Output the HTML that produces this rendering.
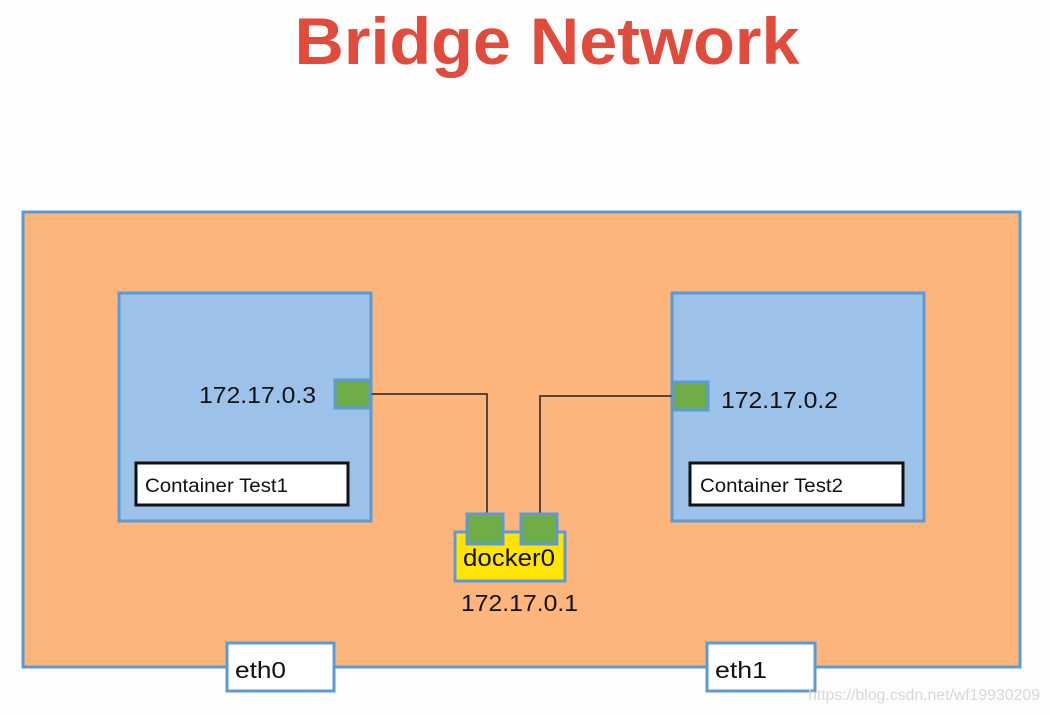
<!DOCTYPE html>
<html><head><meta charset="utf-8"><style>
html,body{margin:0;padding:0;background:#fdfdfd;}
svg{display:block;}
text{font-family:"Liberation Sans",sans-serif;}
</style></head><body>
<svg width="1050" height="715" viewBox="0 0 1050 715" xmlns="http://www.w3.org/2000/svg">
<rect width="1050" height="715" fill="#fdfdfd"/>
<text x="547" y="64" text-anchor="middle" font-size="66" font-weight="bold" fill="#e04b3c" textLength="505" lengthAdjust="spacingAndGlyphs">Bridge Network</text>
<rect x="23" y="212" width="997" height="455" fill="#fdb57b" stroke="#5b9bd5" stroke-width="3"/>
<rect x="119" y="293" width="252" height="228" fill="#9cc2ea" stroke="#5b9bd5" stroke-width="3"/>
<rect x="672" y="293" width="252" height="228" fill="#9cc2ea" stroke="#5b9bd5" stroke-width="3"/>
<rect x="136" y="463" width="212" height="42" fill="#fff" stroke="#111" stroke-width="3"/>
<rect x="690" y="463" width="213" height="42" fill="#fff" stroke="#111" stroke-width="3"/>
<text x="145" y="492" font-size="19" fill="#111" textLength="143" lengthAdjust="spacingAndGlyphs">Container Test1</text>
<text x="700" y="492" font-size="19" fill="#111" textLength="143" lengthAdjust="spacingAndGlyphs">Container Test2</text>
<text x="199" y="403" font-size="23" fill="#111" textLength="117" lengthAdjust="spacingAndGlyphs">172.17.0.3</text>
<text x="721" y="408" font-size="23" fill="#111" textLength="117" lengthAdjust="spacingAndGlyphs">172.17.0.2</text>
<polyline points="370,394 487,394 487,514" fill="none" stroke="#222" stroke-width="1.5"/>
<polyline points="673,396 540,396 540,514" fill="none" stroke="#222" stroke-width="1.5"/>
<rect x="335" y="380" width="35" height="28" fill="#70ad47" stroke="#5b9bd5" stroke-width="3"/>
<rect x="673" y="382" width="35" height="28" fill="#70ad47" stroke="#5b9bd5" stroke-width="3"/>
<rect x="455" y="532" width="110" height="49" fill="#ffe500" stroke="#5b9bd5" stroke-width="3"/>
<rect x="467" y="514" width="36" height="30" fill="#70ad47" stroke="#5b9bd5" stroke-width="3"/>
<rect x="521" y="514" width="36" height="30" fill="#70ad47" stroke="#5b9bd5" stroke-width="3"/>
<text x="463" y="566" font-size="24" fill="#111" textLength="92" lengthAdjust="spacingAndGlyphs">docker0</text>
<text x="461" y="611" font-size="23" fill="#111" textLength="117" lengthAdjust="spacingAndGlyphs">172.17.0.1</text>
<rect x="227" y="643" width="107" height="48" fill="#fff" stroke="#5b9bd5" stroke-width="3"/>
<rect x="707" y="643" width="108" height="48" fill="#fff" stroke="#5b9bd5" stroke-width="3"/>
<text x="235" y="678" font-size="23" fill="#111" textLength="51" lengthAdjust="spacingAndGlyphs">eth0</text>
<text x="715" y="678" font-size="23" fill="#111" textLength="52" lengthAdjust="spacingAndGlyphs">eth1</text>
<text x="808" y="700" font-size="16" fill="#d8d8d8" textLength="232" lengthAdjust="spacingAndGlyphs">https://blog.csdn.net/wf19930209</text>
</svg>
</body></html>
